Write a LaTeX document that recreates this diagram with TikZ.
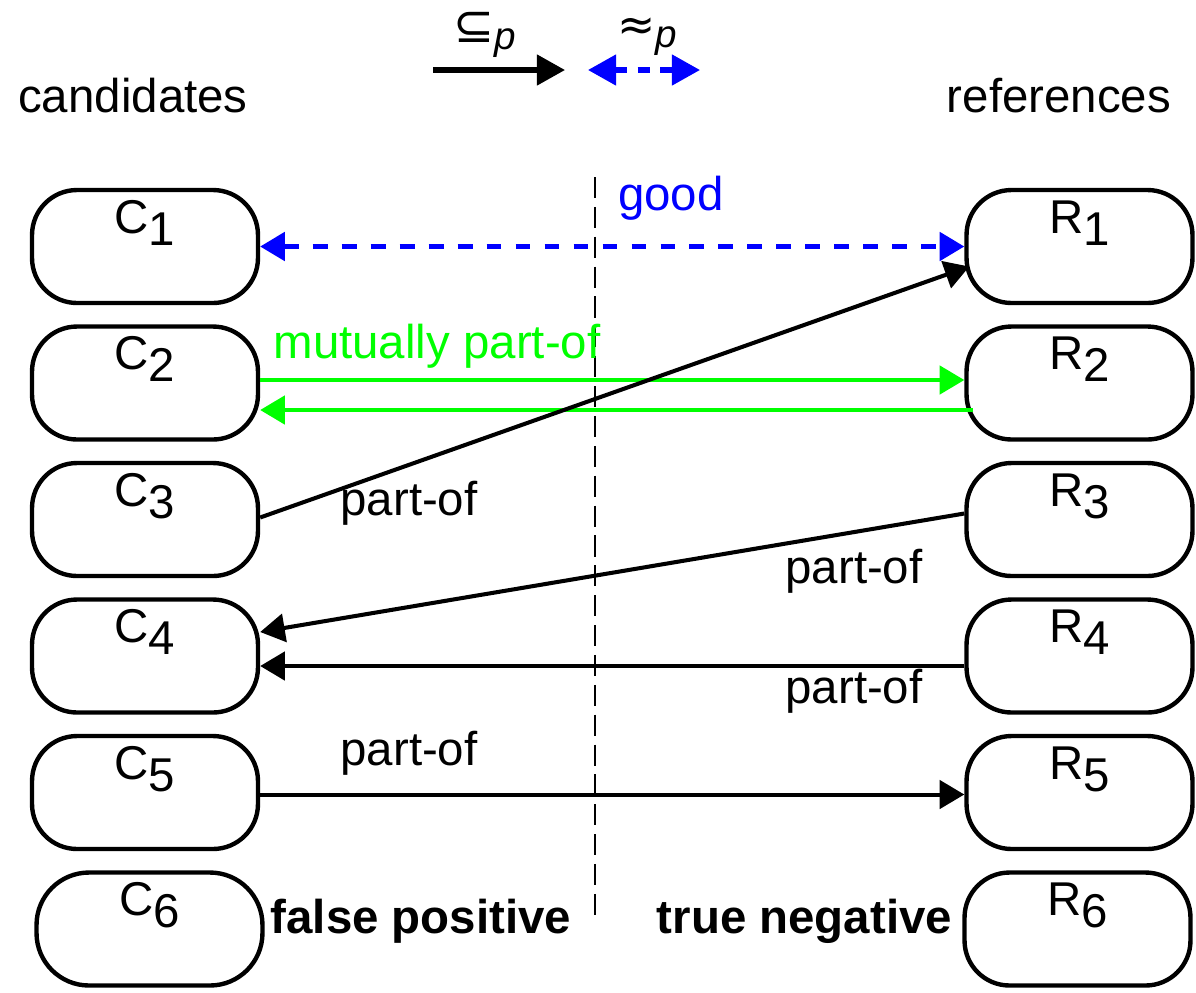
\documentclass[tikz,border=0pt]{standalone}
\usepackage{fontspec}
\setmainfont{Liberation Sans}
\newfontfamily\symfont{DejaVu Sans}
\usepackage{tikz}
\usetikzlibrary{calc,arrows.meta,positioning}
\definecolor{goodblue}{RGB}{0,0,255}
\definecolor{mutualgreen}{RGB}{0,255,0}
\newcommand{\idx}[1]{\raisebox{-0.26em}{#1}}

\begin{document}
\begin{tikzpicture}[x=0.02cm,y=-0.02cm,
  every node/.style={font=\fontsize{27}{32}\selectfont},
  box/.style={draw,line width=2.5pt,rounded corners=0.9cm,minimum width=4.52cm,
    minimum height=2.26cm,inner sep=0pt,text height=0.86cm,text depth=1.4cm},
  tip/.style={-{Triangle[length=14pt,width=16pt]}},
  partof/.style={tip,line width=2.3pt},
  mutual/.style={tip,line width=2.3pt,mutualgreen},
  goodline/.style={{Triangle[length=14pt,width=16pt]}-{Triangle[length=14pt,width=16pt]},
    line width=2.6pt,goodblue,dash pattern=on 8.5pt off 8pt},
  legend/.style={font=\fontsize{22}{26}\selectfont,anchor=base}]
  \useasboundingbox (0,0) rectangle (1196,992);

  % divider
  \coordinate (top) at (595,177);
  \coordinate (bot) at (595,922);
  \draw[line width=0.6pt,dash pattern=on 12pt off 5pt] (top) -- (bot);

  % headings and legend
  \node[anchor=base] (cand) at (133,112) {candidates};
  \node[anchor=base] (refs) at (1059,112) {references};
  \coordinate (la) at (433,70); \coordinate (lb) at (565,70);
  \coordinate (lc) at (588,70); \coordinate (ld) at (700,70);
  \draw[line width=3pt,-{Triangle[length=16pt,width=17pt]}] (la) -- (lb);
  \draw[goodline,line width=3pt,{Triangle[length=16pt,width=17pt]}-{Triangle[length=16pt,width=17pt]},
    dash pattern=on 7pt off 6pt] (lc) -- (ld);
  \node[legend] (subp) at (485,42) {{\symfont\fontsize{28}{30}\selectfont ⊆}\raisebox{-0.2em}{\textit{p}}};
  \node[legend] (apxp) at (647,40) {{\symfont\fontsize{26}{30}\selectfont ≈}\raisebox{-0.2em}{\textit{p}}};

  % candidates
  \node[box] (C1) at (145,246.5) {C\idx{1}};
  \node[box] (C2) at (145,383) {C\idx{2}};
  \node[box] (C3) at (145,519.5) {C\idx{3}};
  \node[box] (C4) at (145,656) {C\idx{4}};
  \node[box] (C5) at (145,792.5) {C\idx{5}};
  \node[box,rounded corners=1.05cm] (C6) at (149.5,929) {C\idx{6}};

  % references
  \node[box] (R1) at (1079.5,246.5) {R\idx{1}};
  \node[box] (R2) at (1079.5,383) {R\idx{2}};
  \node[box] (R3) at (1079.5,519.5) {R\idx{3}};
  \node[box] (R4) at (1079.5,656) {R\idx{4}};
  \node[box] (R5) at (1079.5,792.5) {R\idx{5}};
  \node[box] (R6) at (1077.5,929) {R\idx{6}};

  % links
  \draw[goodline] (C1.east) -- (R1.west);
  \draw[mutual] ($(C2.east)+(0,-3)$) -- ($(R2.west)+(0,-3)$);
  \draw[mutual] ($(R2.west)+(9,27)$) -- ($(C2.east)+(0,27)$);
  \draw[partof] ($(C3.east)+(0,-2)$) -- ($(R1.west)+(5,20)$);
  \draw[partof] ($(R3.west)+(0,-6)$) -- ($(C4.east)+(0,-24)$);
  \draw[partof] ($(R4.west)+(0,10)$) -- ($(C4.east)+(0,10)$);
  \draw[partof] ($(C5.east)+(0,2)$) -- ($(R5.west)+(0,2)$);

  \node[anchor=base,goodblue] (good) at (671,210) {good};
  \node[anchor=base,mutualgreen] (mut) at (437,358) {mutually part-of};
  \node[anchor=base] (po1) at (409,515) {part-of};
  \node[anchor=base] (po2) at (854,583) {part-of};
  \node[anchor=base] (po3) at (854,703) {part-of};
  \node[anchor=base] (po4) at (409,765) {part-of};
  \node[anchor=base,font=\fontsize{27}{32}\selectfont\bfseries] (fp) at (421,933) {false positive};
  \node[anchor=base,font=\fontsize{27}{32}\selectfont\bfseries] (tn) at (804.5,933) {true negative};
\end{tikzpicture}
\end{document}
